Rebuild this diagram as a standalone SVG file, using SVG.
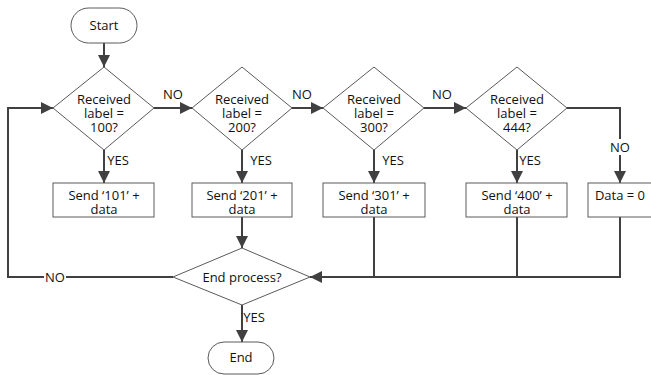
<svg xmlns="http://www.w3.org/2000/svg" width="651" height="375" viewBox="0 0 651 375">
<style>
.s{fill:#fff;stroke:#5a5a5a;stroke-width:1}
.t{font-family:"Open Sans","Liberation Sans",sans-serif;font-size:13px;fill:#111;text-anchor:middle}
.c{fill:none;stroke:#404040;stroke-width:2}
.a{marker-end:url(#ar)}
</style>
<defs>
<marker id="ar" viewBox="0 0 12 12" refX="12" refY="6" markerWidth="12" markerHeight="12" markerUnits="userSpaceOnUse" orient="auto">
<path d="M0,0 L12,6 L0,12 Z" fill="#404040"/>
</marker>
</defs>
<g id="connectors">
<path class="c a" d="M104,43 V67"/>
<path class="c a" d="M154,108 H192"/>
<path class="c a" d="M292,108 H323"/>
<path class="c a" d="M424,108 H466"/>
<path class="c a" d="M567,108 H620 V183"/>
<path class="c a" d="M104,150 V183"/>
<path class="c a" d="M242,150 V183"/>
<path class="c a" d="M374,150 V183"/>
<path class="c a" d="M517,150 V183"/>
<path class="c a" d="M242,217 V248"/>
<path class="c" d="M374,217 V277"/>
<path class="c" d="M517,217 V277"/>
<path class="c a" d="M620,217 V277 H310"/>
<path class="c a" d="M173,277 H8 V108 H53"/>
<path class="c a" d="M242,305 V342"/>
<rect x="44" y="269" width="22" height="16" fill="#fff"/>
<rect x="608" y="139" width="24" height="16" fill="#fff"/>
<text class="t" x="55" y="281.5">NO</text>
<text class="t" x="620" y="151.5">NO</text>
<text class="t" x="173" y="98.5">NO</text>
<text class="t" x="302" y="98.5">NO</text>
<text class="t" x="442" y="98.5">NO</text>
<text class="t" x="118" y="164.5">YES</text>
<text class="t" x="261" y="164.5">YES</text>
<text class="t" x="393" y="164.5">YES</text>
<text class="t" x="530" y="164.5">YES</text>
<text class="t" x="254" y="321.5">YES</text>
</g>
<g id="start"><rect class="s" x="71" y="8" width="66" height="35" rx="17.5"/><text class="t" x="104" y="29.5">Start</text></g>
<g id="d100"><path class="s" d="M104,67 L154,108 L104,150 L53,108 Z"/><text class="t" y="104"><tspan x="104">Received</tspan><tspan x="104" dy="14">label =</tspan><tspan x="104" dy="14">100?</tspan></text></g>
<g id="d200"><path class="s" d="M242,67 L292,108 L242,150 L192,108 Z"/><text class="t" y="104"><tspan x="242">Received</tspan><tspan x="242" dy="14">label =</tspan><tspan x="242" dy="14">200?</tspan></text></g>
<g id="d300"><path class="s" d="M374,67 L424,108 L374,150 L323,108 Z"/><text class="t" y="104"><tspan x="374">Received</tspan><tspan x="374" dy="14">label =</tspan><tspan x="374" dy="14">300?</tspan></text></g>
<g id="d444"><path class="s" d="M517,67 L567,108 L517,150 L466,108 Z"/><text class="t" y="104"><tspan x="517">Received</tspan><tspan x="517" dy="14">label =</tspan><tspan x="517" dy="14">444?</tspan></text></g>
<g id="b101"><rect class="s" x="53" y="183" width="101" height="34"/><text class="t" y="199.5"><tspan x="104">Send ‘101’ +</tspan><tspan x="104" dy="14">data</tspan></text></g>
<g id="b201"><rect class="s" x="192" y="183" width="100" height="34"/><text class="t" y="199.5"><tspan x="242">Send ‘201’ +</tspan><tspan x="242" dy="14">data</tspan></text></g>
<g id="b301"><rect class="s" x="323" y="183" width="102" height="34"/><text class="t" y="199.5"><tspan x="374">Send ‘301’ +</tspan><tspan x="374" dy="14">data</tspan></text></g>
<g id="b400"><rect class="s" x="466" y="183" width="101" height="34"/><text class="t" y="199.5"><tspan x="517">Send ‘400’ +</tspan><tspan x="517" dy="14">data</tspan></text></g>
<g id="bdata"><rect class="s" x="588" y="183" width="64" height="34"/><text class="t" x="620" y="199.5">Data = 0</text></g>
<g id="endproc"><path class="s" d="M242,248 L310,277 L242,305 L173,277 Z"/><text class="t" x="242" y="281.5">End process?</text></g>
<g id="end"><rect class="s" x="208" y="342" width="66" height="32" rx="16"/><text class="t" x="241" y="361.5">End</text></g>
</svg>
